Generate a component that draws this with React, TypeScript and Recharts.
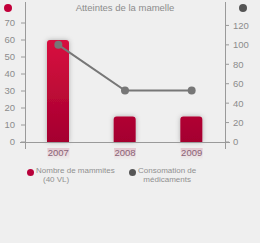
import { ComposedChart, Bar, Line, XAxis, YAxis } from "recharts";

const years = ["2007", "2008", "2009"];
const mammites = [60, 15, 15];
const medicaments = [100, 53, 53];
const leftTicks = [0, 10, 20, 30, 40, 50, 60, 70];
const rightTicks = [0, 20, 40, 60, 80, 100, 120];

const data = years.map((year, i) => ({
  year,
  mammites: mammites[i],
  medicaments: medicaments[i],
}));

const font = "'Liberation Sans', Arial, sans-serif";
const textColor = "#8c8c8c";
const axisColor = "#9a9a9a";

function YearTick(props: any) {
  const { x, y, payload } = props;
  return (
    <g>
      <rect x={x - 11} y={y - 2} width={22} height={12} fill="url(#reflect)" />
      <text x={x} y={y + 6} textAnchor="middle" fontSize={9.5} fill="#8a6275" fontFamily={font}>
        {payload.value}
      </text>
    </g>
  );
}

function Dot({ cx, cy, r, color }: { cx: number; cy: number; r: number; color: string }) {
  return (
    <div
      style={{
        position: "absolute",
        left: cx - r,
        top: cy - r,
        width: r * 2,
        height: r * 2,
        borderRadius: "50%",
        background: color,
      }}
    />
  );
}

export default function App() {
  return (
    <div
      style={{
        position: "fixed",
        left: 0,
        top: 0,
        width: 260,
        height: 243,
        background: "#efefef",
        fontFamily: font,
        overflow: "hidden",
      }}
    >
      <ComposedChart width={260} height={243} data={data} margin={{ top: 6, right: 0, left: 0, bottom: 81 }}>
        <defs>
          <linearGradient id="barFill" gradientUnits="userSpaceOnUse" x1="0" y1="40" x2="0" y2="142">
            <stop offset="0%" stopColor="#d8103f" />
            <stop offset="100%" stopColor="#a4002f" />
          </linearGradient>
          <linearGradient id="reflect" x1="0" y1="0" x2="0" y2="1">
            <stop offset="0%" stopColor="#d08aa0" stopOpacity={0.4} />
            <stop offset="100%" stopColor="#d08aa0" stopOpacity={0} />
          </linearGradient>
          <filter id="shadow" x="-50%" y="-20%" width="200%" height="140%">
            <feDropShadow dx="0" dy="0" stdDeviation="2.5" floodColor="#000" floodOpacity="0.28" />
          </filter>
        </defs>
        <XAxis dataKey="year" height={20} axisLine={false} tickLine={false} tick={<YearTick />} interval={0} />
        <YAxis
          yAxisId="left"
          width={25}
          domain={[0, 80]}
          ticks={leftTicks}
          axisLine={false}
          tickSize={4}
          tickMargin={6}
          tickLine={{ stroke: axisColor }}
          tick={{ fontSize: 9.5, fill: textColor, stroke: "none", fontFamily: font }}
        />
        <YAxis
          yAxisId="right"
          orientation="right"
          width={35}
          domain={[0, 140]}
          ticks={rightTicks}
          axisLine={false}
          tickSize={4}
          tickMargin={4}
          tickLine={{ stroke: axisColor }}
          tick={{ fontSize: 9.5, fill: textColor, stroke: "none", fontFamily: font }}
        />
        <Bar
          yAxisId="left"
          dataKey="mammites"
          barSize={22}
          fill="url(#barFill)"
          radius={[3, 3, 0, 0]}
          filter="url(#shadow)"
          isAnimationActive={false}
        />
        <Line
          yAxisId="right"
          dataKey="medicaments"
          type="linear"
          stroke="#777"
          strokeWidth={2}
          dot={{ r: 4, fill: "#777", stroke: "none" }}
          isAnimationActive={false}
        />
      </ComposedChart>

      {/* axis lines, extended past the plot like the original */}
      <div style={{ position: "absolute", left: 25, top: 2, width: 1, height: 147, background: axisColor }} />
      <div style={{ position: "absolute", left: 225, top: 2, width: 1, height: 147, background: axisColor }} />
      <div style={{ position: "absolute", left: 20, top: 142, width: 210, height: 1, background: axisColor }} />

      <div
        style={{
          position: "absolute",
          left: 25,
          width: 200,
          top: 2,
          textAlign: "center",
          fontSize: 9.5,
          color: textColor,
        }}
      >
        Atteintes de la mamelle
      </div>
      <Dot cx={8} cy={8} r={4} color="#c2003a" />
      <Dot cx={243} cy={8} r={4} color="#555" />

      <Dot cx={30} cy={172} r={3.5} color="#b8003a" />
      <div style={{ position: "absolute", left: 36, top: 167, fontSize: 8, lineHeight: "8.5px", color: "#909090" }}>
        Nombre de mammites
        <div style={{ paddingLeft: 7 }}>(40 VL)</div>
      </div>
      <Dot cx={132} cy={172} r={3.5} color="#555" />
      <div
        style={{
          position: "absolute",
          left: 138,
          top: 167,
          fontSize: 8,
          lineHeight: "8.5px",
          color: "#909090",
          textAlign: "center",
        }}
      >
        Consomation de
        <div>médicaments</div>
      </div>
    </div>
  );
}
